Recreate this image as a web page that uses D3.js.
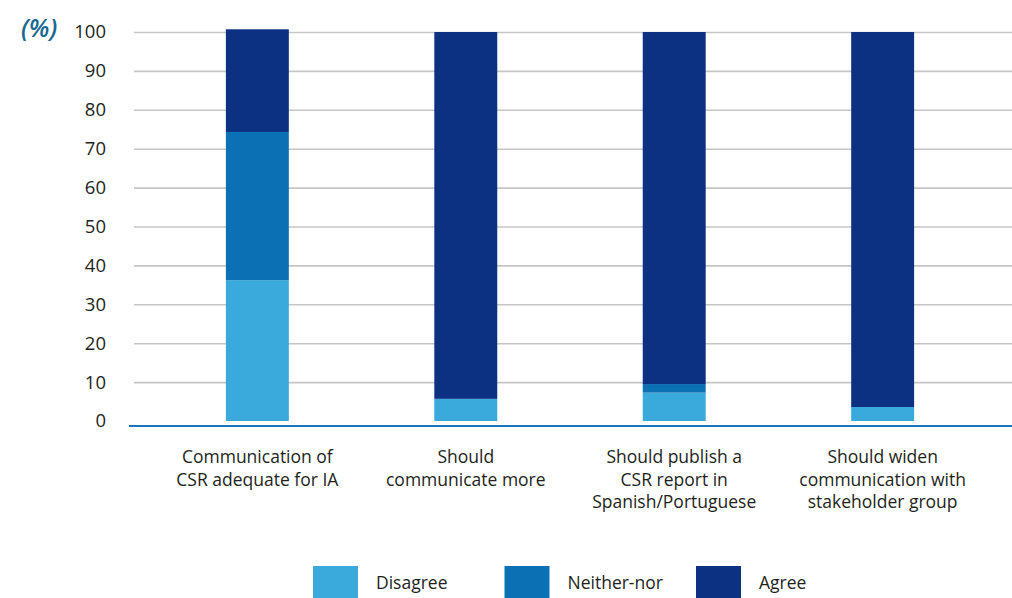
<!DOCTYPE html>
<html>
<head>
<meta charset="utf-8">
<script src="https://cdn.jsdelivr.net/npm/d3@7"></script>
<style>
  html, body { margin: 0; padding: 0; background: #ffffff; }
  svg { display: block; font-family: "Open Sans", "Noto Sans", sans-serif; }
</style>
</head>
<body>
<svg id="chart" width="1012" height="598"></svg>
<script>
// Survey answers on CSR communication, share of respondents (%)
const categories = [
  ["Communication of", "CSR adequate for IA"],
  ["Should", "communicate more"],
  ["Should publish a", "CSR report in", "Spanish/Portuguese"],
  ["Should widen", "communication with", "stakeholder group"]
];
const seriesNames = ["Disagree", "Neither-nor", "Agree"];
const disagree   = [36.2, 5.7, 7.3, 3.6];
const neitherNor = [38.1, 0,   2.2, 0];
const agree      = [26.4, 94.3, 90.5, 96.4];
const yTicks = [0, 10, 20, 30, 40, 50, 60, 70, 80, 90, 100];
const colors = ["#3aa9dc", "#0b70b4", "#0d3182"];

const svg = d3.select("#chart");
const W = 1012;

const keys = categories.map((c, i) => "c" + i);
const rows = keys.map((k, i) => ({
  key: k,
  "Disagree": disagree[i],
  "Neither-nor": neitherNor[i],
  "Agree": agree[i]
}));

const x = d3.scaleBand()
  .domain(keys)
  .range([130, 1010])
  .paddingInner(0.698)
  .paddingOuter(0.46);

const y = d3.scaleLinear().domain([0, 100]).range([421, 32]);

// gridlines and tick labels
const yAxis = d3.axisLeft(y)
  .tickValues(yTicks)
  .tickSize(-(W - 134))
  .tickPadding(28)
  .tickFormat(d3.format("d"));

const gAxis = svg.append("g")
  .attr("transform", "translate(134,0)")
  .call(yAxis);
gAxis.select(".domain").remove();
gAxis.selectAll(".tick line")
  .attr("stroke", "#c6c6c6")
  .attr("stroke-width", 1.6)
  .attr("stroke-opacity", d => d === 0 ? 0 : 1);
gAxis.selectAll(".tick text")
  .attr("fill", "#231f20")
  .style("font-size", "18.5px")
  .style("font-family", "'Open Sans', sans-serif");

// unit label
svg.append("text")
  .attr("x", 21)
  .attr("y", 37)
  .attr("fill", "#1a6892")
  .style("font-size", "25px")
  .style("font-style", "italic")
  .style("font-weight", "600")
  .text("(%)");

// stacked bars
const stacked = d3.stack().keys(seriesNames)(rows);
svg.append("g")
  .selectAll("g")
  .data(stacked)
  .join("g")
  .attr("fill", (d, i) => colors[i])
  .selectAll("rect")
  .data(d => d)
  .join("rect")
  .attr("x", d => x(d.data.key))
  .attr("width", x.bandwidth())
  .attr("y", d => y(d[1]))
  .attr("height", d => Math.max(0, y(d[0]) - y(d[1])));

// baseline
svg.append("line")
  .attr("x1", 129).attr("x2", W)
  .attr("y1", 426).attr("y2", 426)
  .attr("stroke", "#1c76bd")
  .attr("stroke-width", 2.2);

// category labels
const catG = svg.append("g")
  .selectAll("text")
  .data(categories)
  .join("text")
  .attr("x", (d, i) => x(keys[i]) + x.bandwidth() / 2)
  .attr("y", 463)
  .attr("text-anchor", "middle")
  .attr("fill", "#231f20")
  .style("font-size", "17.5px");
catG.selectAll("tspan")
  .data(d => d)
  .join("tspan")
  .attr("x", function () { return d3.select(this.parentNode).attr("x"); })
  .attr("dy", (d, i) => i === 0 ? 0 : 22.5)
  .text(d => d);

// legend
const legend = svg.append("g")
  .selectAll("g")
  .data(seriesNames)
  .join("g")
  .attr("transform", (d, i) => `translate(${313 + i * 191.5},566)`);
legend.append("rect")
  .attr("width", 45)
  .attr("height", 34)
  .attr("fill", (d, i) => colors[i]);
legend.append("text")
  .attr("x", 63)
  .attr("y", 23)
  .attr("fill", "#231f20")
  .style("font-size", "17.5px")
  .text(d => d);
</script>
</body>
</html>
